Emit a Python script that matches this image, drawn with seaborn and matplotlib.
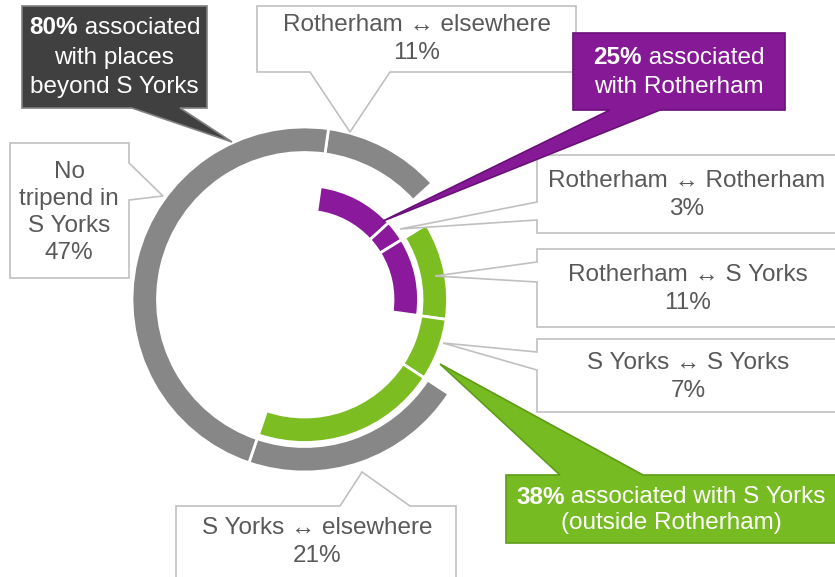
import matplotlib.pyplot as plt
import seaborn as sns
from matplotlib.patches import Polygon

# trip shares, clockwise from the top of the rings
segments = ["Rotherham ↔ elsewhere", "Rotherham ↔ Rotherham", "Rotherham ↔ S Yorks",
            "S Yorks ↔ S Yorks", "S Yorks ↔ elsewhere", "No tripend in S Yorks"]
shares = [11, 3, 11, 7, 21, 47]

# ring membership of each segment
beyond_syorks = [True, False, False, False, True, True]
syorks_outside = [False, False, True, True, True, False]
rotherham = [True, True, True, False, False, False]

# headline totals
pct_beyond = 80
pct_rotherham = 25
pct_syorks = 38

grey = "#878787"
green = "#7cbd21"
purple = "#8a199b"
txt = "#595959"
line = "#c0c0c0"
FS = 17.5

sns.set_theme(style="white")
plt.rcParams['font.family'] = ['Liberation Sans', 'DejaVu Sans']

fig = plt.figure(figsize=(8.35, 5.77), dpi=100)
ax = fig.add_axes([0, 0, 1, 1])

centre = (304.5, 299.5)
rings = [(beyond_syorks, grey, 172.5), (syorks_outside, green, 143), (rotherham, purple, 114)]
for flags, col, rad in rings:
    wedges, _ = ax.pie(shares, colors=[col if f else "none" for f in flags],
                       radius=rad, center=centre, startangle=-82, counterclock=True,
                       wedgeprops=dict(width=25.5, edgecolor="white", linewidth=2))
    for w, f in zip(wedges, flags):
        w.set_visible(f)

ax.set_xlim(0, 835)
ax.set_ylim(577, 0)
ax.set_aspect("equal")
ax.axis("off")


def callout(pts, face, edge, lw=1.2):
    ax.add_patch(Polygon(pts, closed=True, facecolor=face, edgecolor=edge,
                         linewidth=lw, zorder=3, joinstyle="miter"))


def lines(x, y0, rows, step=28, colour=txt):
    for i, r in enumerate(rows):
        ax.text(x, y0 + i * step, r, ha="center", va="center", fontsize=FS,
                color=colour, zorder=4)


def bold_start(x, y, bold, rest, colour="white"):
    t = ax.text(x, y, bold, ha="left", va="center", fontsize=FS, color=colour,
                fontweight="bold", zorder=4)
    ax.annotate(rest, xy=(1, 0.5), xycoords=t, ha="left", va="center",
                fontsize=FS, color=colour, zorder=4)


# plain label boxes
callout([(257, 6), (576, 6), (576, 72), (390, 72), (350, 132), (310, 72), (257, 72)], "white", line)
lines(417, 25, [segments[0], f"{shares[0]}%"])

callout([(537, 155), (840, 155), (840, 233), (537, 233), (537, 220), (400, 229), (537, 202)], "white", line)
lines(687, 181, [segments[1], f"{shares[1]}%"])

callout([(537, 249), (840, 249), (840, 327), (537, 327), (537, 282), (435, 276), (537, 262)], "white", line)
lines(688, 275, [segments[2], f"{shares[2]}%"])

callout([(537, 339), (840, 339), (840, 412), (537, 412), (537, 370), (443, 343), (537, 352)], "white", line)
lines(688, 363, [segments[3], f"{shares[3]}%"])

callout([(176, 506), (340, 506), (362, 472), (410, 506), (456, 506), (456, 590), (176, 590)], "white", line)
lines(317, 528, [segments[4], f"{shares[4]}%"])

callout([(10, 143), (129, 143), (129, 163), (163, 196), (129, 200), (129, 278), (10, 278)], "white", line)
lines(69, 172, ["No", "tripend in", "S Yorks", f"{shares[5]}%"], step=27)

# headline callouts
callout([(22, 6), (207, 6), (207, 108), (180, 108), (232, 142), (132, 108), (22, 108)], "#404040", "#808080")
bold_start(29, 28, f"{pct_beyond}%", " associated")
lines(114, 58, ["with places", "beyond S Yorks"], step=29, colour="white")

callout([(573, 33), (785, 33), (785, 110), (660, 110), (383, 221), (610, 110), (573, 110)], "#861a96", "#6b0f7a")
bold_start(593, 58, f"{pct_rotherham}%", " associated")
lines(679, 87, ["with Rotherham"], colour="white")

callout([(506, 475), (560, 475), (440, 364), (643, 475), (840, 475), (840, 543), (506, 543)], "#77bb22", "#5e9c18")
bold_start(516, 497, f"{pct_syorks}%", " associated with S Yorks")
lines(671, 523, ["(outside Rotherham)"], colour="white")

fig.savefig("out.png", dpi=100)
